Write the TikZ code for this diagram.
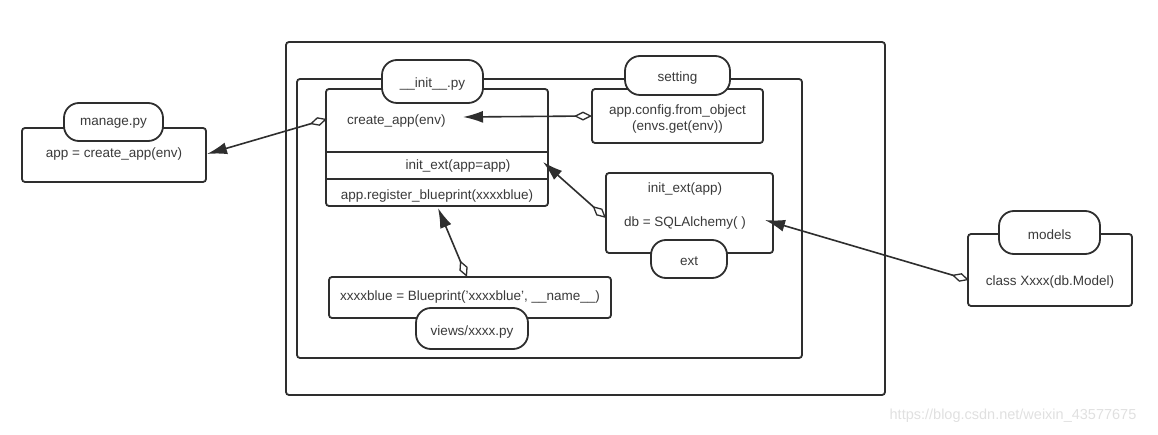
\documentclass[tikz,border=0pt]{standalone}
\usepackage{fontspec}
\setmainfont{Liberation Sans}
\usetikzlibrary{arrows.meta}
\definecolor{ln}{HTML}{2E2E2E}
\definecolor{tx}{HTML}{3A3A3A}
\tikzset{
  box/.style={draw=ln, line width=1.8pt, rounded corners=3pt, fill=white, inner sep=0pt, outer sep=0pt},
  pill/.style={draw=ln, line width=1.8pt, rounded corners=15pt, fill=white, inner sep=0pt, outer sep=0pt},
  lbl/.style={text=tx, font=\fontsize{13.5}{16}\selectfont, inner sep=0pt},
  conn/.style={draw=ln, line width=1.6pt, {Diamond[open,length=18pt,width=9pt,line width=1.3pt]}-{Latex[length=20pt,width=12pt]}},
}
\begin{document}
\begin{tikzpicture}[x=1pt,y=-1pt]
\useasboundingbox (0,0) rectangle (1158,435);
% containers
\draw[box] (286,42) rectangle (885,395);
\draw[box] (297,79) rectangle (802,358);
% manage.py
\node[box, minimum width=184pt, minimum height=54pt] (manage) at (114,155) {};
\node[pill, minimum width=99pt, minimum height=38pt] (managetag) at (113.5,122) {};
\node[lbl] (managetagt) at (113.5,123) {manage.py};
\node[lbl] (managet) at (114,154) {app = create\_app(env)};
% __init__.py box
\node[box, minimum width=222pt, minimum height=117pt] (init) at (437,147.5) {};
\draw[line width=1.8pt, ln] (326,152) -- (548,152);
\draw[line width=1.8pt, ln] (326,179) -- (548,179);
\node[pill, minimum width=101pt, minimum height=43pt] (inittag) at (432.5,81.5) {};
\node[lbl] (inittagt) at (432.5,84) {\_\_init\_\_.py};
\node[lbl, anchor=west] (createt) at (347,121) {create\_app(env)};
\node[lbl] (initextt) at (458,166) {init\_ext(app=app)};
\node[lbl] (regt) at (437,196) {app.register\_blueprint(xxxxblue)};
% setting
\node[box, minimum width=171pt, minimum height=54pt] (config) at (677.5,116) {};
\node[pill, minimum width=105pt, minimum height=39pt] (settag) at (677.5,75.5) {};
\node[lbl] (settagt) at (677.5,78) {setting};
\node[lbl, align=center] (configt) at (677.5,119) {app.config.from\_object\\(envs.get(env))};
% ext
\node[box, minimum width=167pt, minimum height=80pt] (ext) at (689.5,213) {};
\node[pill, minimum width=76pt, minimum height=38pt] (exttag) at (689,259) {};
\node[lbl] (exttagt) at (689,261) {ext};
\node[lbl] (extat) at (685,189) {init\_ext(app)};
\node[lbl] (extbt) at (685,223) {db = SQLAlchemy( )};
% views
\node[box, minimum width=282pt, minimum height=41pt] (views) at (470,297.5) {};
\node[pill, minimum width=112pt, minimum height=41pt] (viewstag) at (472,328.5) {};
\node[lbl] (viewstagt) at (472,332) {views/xxxx.py};
\node[lbl] (viewst) at (470,297) {xxxxblue = Blueprint('xxxxblue', \_\_name\_\_)};
% models
\node[box, minimum width=164pt, minimum height=72pt] (models) at (1050,270) {};
\node[pill, minimum width=101pt, minimum height=43pt] (modelstag) at (1049.5,232.5) {};
\node[lbl] (modelstagt) at (1049.5,235) {models};
\node[lbl] (modelst) at (1050,282) {class Xxxx(db.Model)};
% connector end points
\coordinate (c1s) at (327,119);
\coordinate (c1e) at (207,154);
\coordinate (c2s) at (592,116);
\coordinate (c2e) at (463,117);
\coordinate (c3s) at (606,218);
\coordinate (c3e) at (543,162);
\coordinate (c4s) at (467,277);
\coordinate (c4e) at (438,208);
\coordinate (c5s) at (969,280);
\coordinate (c5e) at (765,220);
\draw[conn] (c1s) -- (c1e);
\draw[conn] (c2s) -- (c2e);
\draw[conn] (c3s) -- (c3e);
\draw[conn] (c4s) -- (c4e);
\draw[conn] (c5s) -- (c5e);
% watermark
\node[text=black!12, font=\fontsize{14.5}{17}\selectfont, inner sep=0pt] (wm) at (1013,416) {https://blog.csdn.net/weixin\_43577675};
\end{tikzpicture}
\end{document}
